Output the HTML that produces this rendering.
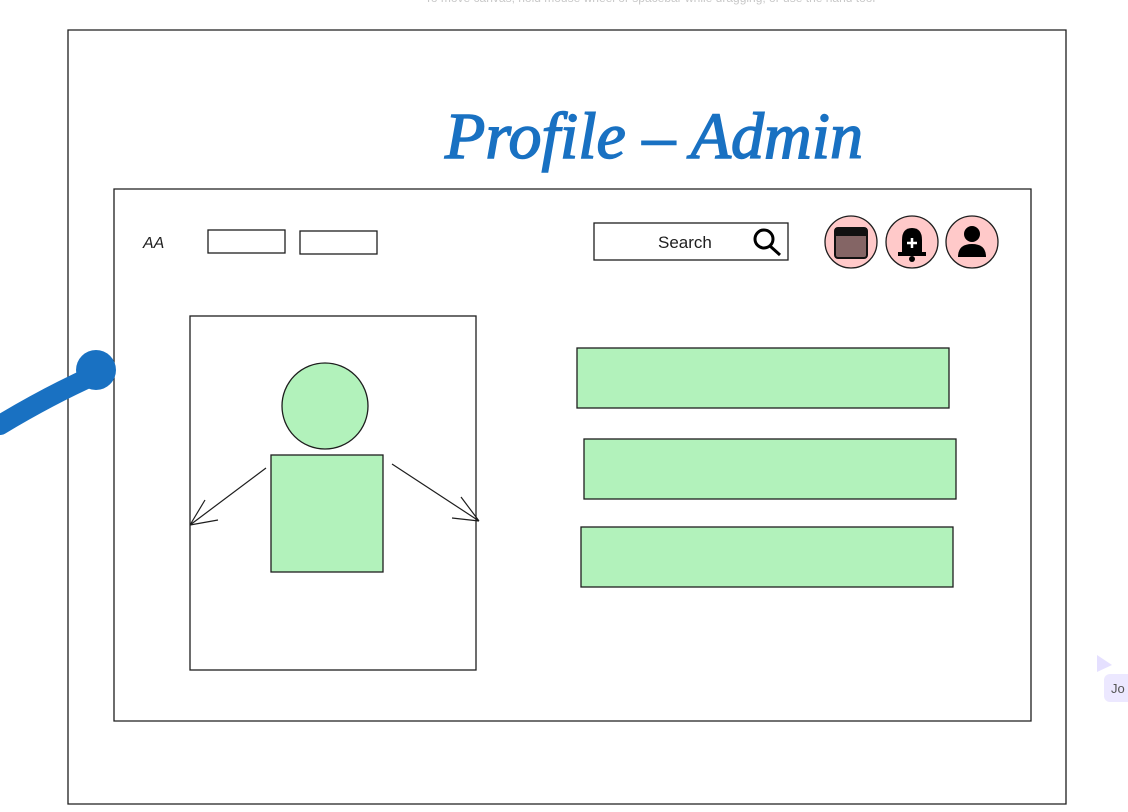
<!DOCTYPE html>
<html><head><style>
html,body{margin:0;padding:0;background:#fff;width:1128px;height:812px;overflow:hidden}
</style></head><body>
<svg width="1128" height="812" viewBox="0 0 1128 812" xmlns="http://www.w3.org/2000/svg" font-family="Liberation Sans, sans-serif">
<text x="650" y="2" font-size="12" fill="#c8c8c8" text-anchor="middle">To move canvas, hold mouse wheel or spacebar while dragging, or use the hand tool</text>
<g fill="none" stroke="#1e1e1e" stroke-width="1.3">
<path d="M68 30 L1066 30 L1066 804 L68 804 Z"/>
<path d="M114 189 L1031 189 L1031 721 L114 721 Z"/>
<rect x="208" y="230" width="77" height="23"/>
<rect x="300" y="231" width="77" height="23"/>
<rect x="594" y="223" width="194" height="37"/>
<rect x="190" y="316" width="286" height="354"/>
</g>
<text x="143" y="248" font-size="16" font-style="italic" fill="#1e1e1e">AA</text>
<text x="658" y="248" font-size="17" fill="#1e1e1e">Search</text>
<circle cx="764" cy="239" r="9" fill="none" stroke="#000" stroke-width="3"/>
<line x1="770" y1="246" x2="780" y2="255" stroke="#000" stroke-width="3"/>
<g stroke="#1e1e1e" stroke-width="1.3" fill="#ffc9c9">
<circle cx="851" cy="242" r="26"/><circle cx="912" cy="242" r="26"/><circle cx="972" cy="242" r="26"/>
</g>
<rect x="835" y="228" width="32" height="30" rx="3" fill="#846565" stroke="#111" stroke-width="2"/>
<rect x="835" y="228" width="32" height="8" fill="#111"/>
<path d="M902 254 L902 240 Q902 228 912 228 Q922 228 922 240 L922 254 Z" fill="#000"/>
<rect x="898" y="252" width="28" height="4" fill="#000"/><circle cx="912" cy="259" r="3" fill="#000"/>
<path d="M912 238 v10 M907 243 h10" stroke="#fff" stroke-width="2.5"/>
<circle cx="972" cy="234" r="8" fill="#000"/><path d="M958 257 Q958 244 972 244 Q986 244 986 257 Z" fill="#000"/>
<circle cx="325" cy="406" r="43" fill="#b2f2bb" stroke="#1e1e1e" stroke-width="1.3"/>
<rect x="271" y="455" width="112" height="117" fill="#b2f2bb" stroke="#1e1e1e" stroke-width="1.3"/>
<g stroke="#1e1e1e" stroke-width="1.2" fill="none">
<path d="M266 468 L190 525 M190 525 L205 500 M190 525 L218 520"/>
<path d="M392 464 L479 521 M479 521 L461 497 M479 521 L452 518"/>
</g>
<g fill="#b2f2bb" stroke="#1e1e1e" stroke-width="1.3">
<rect x="577" y="348" width="372" height="60"/>
<rect x="584" y="439" width="372" height="60"/>
<rect x="581" y="527" width="372" height="60"/>
</g>
<path d="M0 425 Q50 395 95 375" stroke="#1971c2" stroke-width="20" fill="none" stroke-linecap="round"/>
<circle cx="96" cy="370" r="20" fill="#1971c2"/>
<text x="445" y="158" font-size="66" font-style="italic" fill="#1971c2" font-family="Liberation Serif, serif" stroke="#1971c2" stroke-width="1.5">Profile – Admin</text>
<path d="M1097 655 L1112 665 L1097 672 Z" fill="#e5e0ff"/>
<rect x="1104" y="674" width="30" height="28" rx="6" fill="#ece8ff"/>
<text x="1111" y="693" font-size="13" fill="#555">Jo</text>
</svg>
</body></html>
